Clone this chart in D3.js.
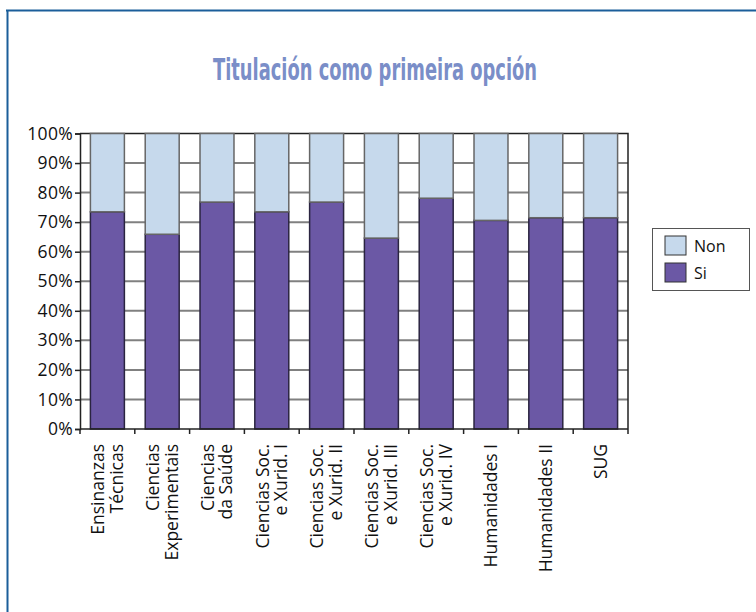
<!DOCTYPE html>
<html>
<head>
<meta charset="utf-8">
<script src="https://cdn.jsdelivr.net/npm/d3@7"></script>
<style>
  body { margin: 0; background: #fff; }
  svg { display: block; }
</style>
</head>
<body>
<div id="chart"></div>
<script>
// Titulación como primeira opción - barras apiladas 100%

const categories = [
    ["Ensinanzas", "Técnicas"],
    ["Ciencias", "Experimentais"],
    ["Ciencias", "da Saúde"],
    ["Ciencias Soc.", "e Xurid. I"],
    ["Ciencias Soc.", "e Xurid. II"],
    ["Ciencias Soc.", "e Xurid. III"],
    ["Ciencias Soc.", "e Xurid. IV"],
    ["Humanidades I"],
    ["Humanidades II"],
    ["SUG"]
];
const siValues  = [73.5, 65.9, 76.8, 73.5, 76.8, 64.6, 78.1, 70.6, 71.5, 71.5];
const nonValues = [26.5, 34.1, 23.2, 26.5, 23.2, 35.4, 21.9, 29.4, 28.5, 28.5];
const yTicks = [0, 10, 20, 30, 40, 50, 60, 70, 80, 90, 100];
const seriesNames = ["Non", "Si"];

function drawChart() {
    const width = 756;
    const height = 612;
    const plot = { left: 80, right: 628, top: 133.5, bottom: 429 };
    const font = "'Open Sans', 'Noto Sans', sans-serif";

    d3.select("#chart").selectAll("*").remove();

    const svg = d3.select("#chart")
        .append("svg")
        .attr("width", width)
        .attr("height", height);

    // marco azul
    svg.append("line")
        .attr("x1", 6).attr("x2", width)
        .attr("y1", 10.5).attr("y2", 10.5)
        .attr("stroke", "#1b5e9a").attr("stroke-width", 2);
    svg.append("line")
        .attr("x1", 7.5).attr("x2", 7.5)
        .attr("y1", 10).attr("y2", height)
        .attr("stroke", "#1b5e9a").attr("stroke-width", 2);

    // título (condensado)
    svg.append("text")
        .attr("x", 213)
        .attr("y", 80)
        .attr("text-anchor", "start")
        .attr("fill", "#7a8ec8")
        .attr("font-family", "'DejaVu Sans Condensed', 'DejaVu Sans', sans-serif")
        .attr("font-weight", "bold")
        .attr("font-size", "30px")
        .attr("textLength", 324)
        .attr("lengthAdjust", "spacingAndGlyphs")
        .text("Titulación como primeira opción");

    const x = d3.scaleBand()
        .domain(d3.range(categories.length))
        .range([plot.left, plot.right])
        .paddingInner(0.38)
        .paddingOuter(0.19);

    const y = d3.scaleLinear()
        .domain([0, 100])
        .range([plot.bottom, plot.top]);

    // rejilla
    svg.append("g")
        .selectAll("line")
        .data(yTicks.filter(t => t > 0 && t < 100))
        .enter()
        .append("line")
        .attr("x1", plot.left).attr("x2", plot.right)
        .attr("y1", d => y(d)).attr("y2", d => y(d))
        .attr("stroke", "#808080")
        .attr("stroke-width", 2);

    // bordes superior y derecho
    svg.append("path")
        .attr("d", `M${plot.left},${y(100)}H${plot.right}V${y(0)}`)
        .attr("fill", "none")
        .attr("stroke", "#222")
        .attr("stroke-width", 1.5);

    // barras
    const rows = categories.map((c, i) => ({ i: i, Si: siValues[i], Non: nonValues[i] }));
    const stacked = d3.stack().keys(["Si", "Non"])(rows);
    const colors = { Si: "#6b58a5", Non: "#c6d9ec" };
    const strokes = { Si: "#2a2440", Non: "#666" };

    svg.selectAll(".series")
        .data(stacked)
        .enter()
        .append("g")
        .attr("class", "series")
        .attr("fill", d => colors[d.key])
        .attr("stroke", d => strokes[d.key])
        .attr("stroke-width", 1.5)
        .selectAll("rect")
        .data(d => d)
        .enter()
        .append("rect")
        .attr("x", d => x(d.data.i))
        .attr("width", x.bandwidth())
        .attr("y", d => y(d[1]))
        .attr("height", d => y(d[0]) - y(d[1]));

    // eje Y
    const yAxis = svg.append("g")
        .attr("transform", `translate(${plot.left},0)`)
        .call(d3.axisLeft(y).tickValues(yTicks).tickSize(5).tickFormat(d => d + "%"));
    yAxis.select(".domain").attr("stroke", "#222").attr("stroke-width", 1.5);
    yAxis.selectAll(".tick line").attr("stroke", "#222").attr("stroke-width", 1.5);
    yAxis.selectAll(".tick text")
        .attr("x", -7)
        .attr("fill", "#111")
        .attr("font-family", font)
        .attr("font-size", "17.5px")
        .attr("letter-spacing", "0.3px");

    // eje X (marcas entre categorías)
    const step = x.step();
    svg.append("line")
        .attr("x1", plot.left).attr("x2", plot.right)
        .attr("y1", plot.bottom).attr("y2", plot.bottom)
        .attr("stroke", "#222").attr("stroke-width", 1.5);
    svg.append("g")
        .selectAll("line")
        .data(d3.range(categories.length + 1))
        .enter()
        .append("line")
        .attr("x1", d => plot.left + d * step)
        .attr("x2", d => plot.left + d * step)
        .attr("y1", plot.bottom)
        .attr("y2", plot.bottom + 5)
        .attr("stroke", "#222").attr("stroke-width", 1.5);

    // etiquetas X giradas
    const lineH = 18.5;
    const labels = svg.append("g")
        .selectAll("text")
        .data(categories)
        .enter()
        .append("text")
        .attr("transform", (d, i) => `translate(${x(i) + x.bandwidth() / 2},444) rotate(-90)`)
        .attr("text-anchor", "end")
        .attr("fill", "#111")
        .attr("font-family", font)
        .attr("font-size", "17.5px");
    labels.each(function(d) {
        const t = d3.select(this);
        d.forEach((line, k) => {
            t.append("tspan")
                .attr("x", 0)
                .attr("y", (k - (d.length - 1) / 2) * lineH)
                .attr("dy", "0.35em")
                .text(line);
        });
    });

    // leyenda
    const legend = svg.append("g");
    legend.append("rect")
        .attr("x", 652.5).attr("y", 228.5)
        .attr("width", 97).attr("height", 62)
        .attr("fill", "#fff")
        .attr("stroke", "#555").attr("stroke-width", 1);
    seriesNames.forEach((name, i) => {
        const row = legend.append("g")
            .attr("transform", `translate(665,${236 + i * 27})`);
        row.append("rect")
            .attr("width", 21).attr("height", 19)
            .attr("fill", colors[name])
            .attr("stroke", "#333").attr("stroke-width", 1);
        row.append("text")
            .attr("x", 29).attr("y", 15.5)
            .attr("fill", "#111")
            .attr("font-family", font)
            .attr("font-size", "16px")
            .text(name);
    });
}

drawChart();
</script>
</body>
</html>
